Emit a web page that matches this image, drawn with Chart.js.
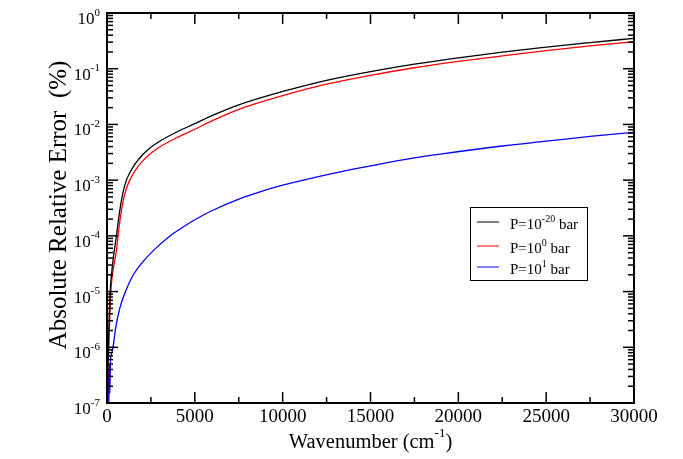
<!DOCTYPE html>
<html>
<head>
<meta charset="utf-8">
<script src="https://cdn.jsdelivr.net/npm/chart.js@4/dist/chart.umd.min.js"></script>
<style>
html, body { margin: 0; padding: 0; background: #fff; }
</style>
</head>
<body>
<canvas id="chart" width="683" height="459"></canvas>
<script>
// wavenumber (cm-1) points, shared by the P=1e-20 and P=1e0 curves
const wnUpper = [15, 30, 50, 80, 120, 180, 250, 350, 535, 700, 900, 1100, 1300, 1600, 2000, 2500, 3000, 4000, 5000, 6000, 7500, 10000, 12500, 15000, 17500, 20000, 22500, 25000, 27500, 30000];
const errP20 = [1e-7, 2.5e-7, 4.5e-7, 1e-6, 3e-6, 1e-5, 1.9e-5, 3.8e-5, 1e-4, 2.5e-4, 5.8e-4, 9.9e-4, 1.36e-3, 1.95e-3, 2.8e-3, 3.9e-3, 5.0e-3, 7.4e-3, 1.03e-2, 1.45e-2, 2.25e-2, 3.9e-2, 6.2e-2, 8.9e-2, 0.121, 0.157, 0.198, 0.245, 0.295, 0.351];
const errP0 = [7e-8, 1.6e-7, 3e-7, 6.5e-7, 1.6e-6, 5.5e-6, 1.35e-5, 2.4e-5, 5.5e-5, 1.54e-4, 3.96e-4, 7.0e-4, 1.0e-3, 1.48e-3, 2.15e-3, 3.03e-3, 3.93e-3, 5.85e-3, 8.2e-3, 1.17e-2, 1.87e-2, 3.3e-2, 5.27e-2, 7.6e-2, 0.104, 0.135, 0.17, 0.211, 0.256, 0.305];
// P=1e1 curve, noisy near zero
const wnP1 = [20, 40, 60, 80, 100, 130, 160, 200, 250, 342, 500, 750, 1048, 1500, 2000, 2680, 3550, 4156, 5000, 6000, 7577, 8706, 10000, 13266, 15000, 17500, 18968, 22500, 25000, 27500, 30000];
const errP1 = [5e-8, 3e-7, 6e-8, 4e-7, 8e-8, 5e-7, 1.5e-7, 6e-7, 7.5e-7, 1e-6, 2.3e-6, 5.3e-6, 1e-5, 2e-5, 3.3e-5, 5.6e-5, 9.75e-5, 1.33e-4, 1.95e-4, 2.85e-4, 4.66e-4, 6.16e-4, 8.1e-4, 1.41e-3, 1.8e-3, 2.5e-3, 2.93e-3, 4.1e-3, 5.0e-3, 6.1e-3, 7.2e-3];

const xMajor = [0, 5000, 10000, 15000, 20000, 25000, 30000];
const xMinor = [2500, 7500, 12500, 17500, 22500, 27500];
const yDecades = [-7, -6, -5, -4, -3, -2, -1, 0];
const legendExp = ['-20', '0', '1'];
const colours = ['#000000', '#ff0000', '#0000ff'];

const FONT = '"Liberation Serif", "Times New Roman", serif';

function pts(xs, ys) {
    return xs.map((v, i) => ({x: v, y: ys[i]}));
}

// draws text pieces [text, size, rise] one after another
function supText(ctx, parts, x, y, align) {
    let w = 0;
    parts.forEach(p => {
        ctx.font = p[1] + 'px ' + FONT;
        w += ctx.measureText(p[0]).width;
    });
    let cx = x;
    if (align === 'right') cx = x - w;
    if (align === 'center') cx = x - w / 2;
    ctx.textAlign = 'left';
    ctx.textBaseline = 'alphabetic';
    parts.forEach(p => {
        ctx.font = p[1] + 'px ' + FONT;
        ctx.fillText(p[0], cx, y - p[2]);
        cx += ctx.measureText(p[0]).width;
    });
}

const frame = {
    id: 'frame',
    afterDatasetsDraw(chart) {
        const {ctx, chartArea: a} = chart;
        const xs = chart.scales.x, ys = chart.scales.y;
        ctx.save();
        ctx.strokeStyle = '#000';
        ctx.fillStyle = '#000';
        ctx.lineWidth = 1.5;
        const line = (x1, y1, x2, y2) => {
            ctx.beginPath(); ctx.moveTo(x1, y1); ctx.lineTo(x2, y2); ctx.stroke();
        };

        // x ticks, inward on bottom and top
        xMinor.forEach(v => {
            const px = xs.getPixelForValue(v);
            line(px, a.bottom, px, a.bottom - 6);
            line(px, a.top, px, a.top + 6);
        });
        xMajor.forEach(v => {
            const px = xs.getPixelForValue(v);
            line(px, a.bottom, px, a.bottom - 11);
            line(px, a.top, px, a.top + 11);
        });

        // y ticks, log decades with minors
        yDecades.forEach(e => {
            for (let m = 1; m < 10; m++) {
                const v = m * Math.pow(10, e);
                if (v > 1.0001) break;
                const py = ys.getPixelForValue(v);
                const len = m === 1 ? 11 : 6;
                line(a.left, py, a.left + len, py);
                line(a.right, py, a.right - len, py);
            }
        });

        ctx.lineWidth = 2;
        ctx.strokeRect(a.left, a.top, a.right - a.left, a.bottom - a.top);

        // y tick labels
        yDecades.forEach(e => {
            const py = ys.getPixelForValue(Math.pow(10, e));
            supText(ctx, [['10', 17, 0], [String(e), 11, 8.5]], 100, py + 11, 'right');
        });

        // x tick labels
        ctx.font = '19px ' + FONT;
        ctx.textAlign = 'center';
        ctx.textBaseline = 'alphabetic';
        xMajor.forEach(v => {
            ctx.fillText(String(v), xs.getPixelForValue(v), 422);
        });

        // axis titles
        const midX = (a.left + a.right) / 2;
        supText(ctx, [['Wavenumber (cm', 20.5, 0], ['-1', 13, 11], [')', 20.5, 0]], midX, 448, 'center');

        ctx.save();
        ctx.translate(66, 205);
        ctx.rotate(-Math.PI / 2);
        supText(ctx, [['Absolute Relative Error  (%)', 25, 0]], 0, 0, 'center');
        ctx.restore();

        // legend box
        ctx.lineWidth = 1;
        ctx.strokeRect(470.5, 207.5, 117, 73);
        const rows = [229, 253, 274];
        rows.forEach((by, i) => {
            ctx.strokeStyle = colours[i];
            ctx.lineWidth = 1;
            line(477, by - 7, 499, by - 7);
            supText(ctx, [['P=10', 15, 0], [legendExp[i], 10, 7], [' bar', 15, 0]], 510, by, 'left');
        });
        ctx.restore();
    }
};

new Chart(document.getElementById('chart'), {
    type: 'line',
    data: {
        datasets: [{
            label: 'P=1e-20 bar',
            data: pts(wnUpper, errP20),
            borderColor: colours[0],
            borderWidth: 1.3
        }, {
            label: 'P=1e0 bar',
            data: pts(wnUpper, errP0),
            borderColor: colours[1],
            borderWidth: 1.3
        }, {
            label: 'P=1e1 bar',
            data: pts(wnP1, errP1),
            borderColor: colours[2],
            borderWidth: 1.3
        }]
    },
    options: {
        responsive: false,
        animation: false,
        devicePixelRatio: 1,
        layout: {padding: {left: 107, top: 13, right: 49, bottom: 56}},
        elements: {
            point: {radius: 0},
            line: {cubicInterpolationMode: 'monotone', fill: false}
        },
        plugins: {legend: {display: false}, tooltip: {enabled: false}},
        scales: {
            x: {type: 'linear', min: 0, max: 30000, display: false},
            y: {type: 'logarithmic', min: 1e-7, max: 1, display: false}
        }
    },
    plugins: [frame]
});
</script>
</body>
</html>
